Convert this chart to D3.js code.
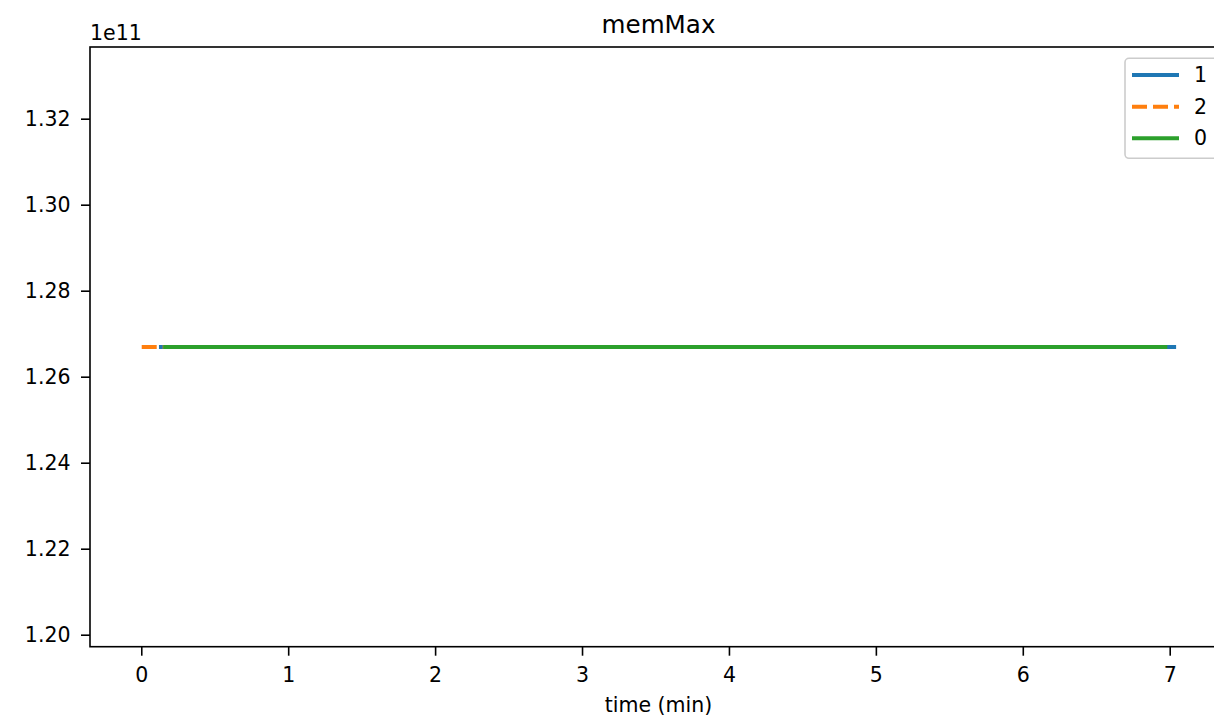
<!DOCTYPE html>
<html>
<head>
<meta charset="utf-8">
<script src="https://cdn.jsdelivr.net/npm/d3@7"></script>
<style>
  html, body { margin: 0; padding: 0; background: #fff; }
  svg { display: block; font-family: "DejaVu Sans", sans-serif; }
</style>
</head>
<body>
<svg id="chart" width="1214" height="719"></svg>
<script>
// ---- data ----
const seriesNames = ["1", "2", "0"];
const seriesColors = ["#1f77b4", "#ff7f0e", "#2ca02c"];
const seriesDashed = [false, true, false];
const time1 = [0.134, 7.03];
const mem1 = [1.2669e11, 1.2669e11];
const time2 = [0.003, 7.0];
const mem2 = [1.2669e11, 1.2669e11];
const time0 = [0.163, 6.97];
const mem0 = [1.2669e11, 1.2669e11];
const xTicks = [0, 1, 2, 3, 4, 5, 6, 7];
const yTicks = [1.20e11, 1.22e11, 1.24e11, 1.26e11, 1.28e11, 1.30e11, 1.32e11];
const titleText = "memMax";
const xLabelText = "time (min)";
const offsetText = "1e11";

const series = [
  { name: seriesNames[0], t: time1, v: mem1, color: seriesColors[0], dashed: seriesDashed[0] },
  { name: seriesNames[1], t: time2, v: mem2, color: seriesColors[1], dashed: seriesDashed[1] },
  { name: seriesNames[2], t: time0, v: mem0, color: seriesColors[2], dashed: seriesDashed[2] }
];

// ---- layout ----
const L = 90, R = 1227, T = 47, B = 646.7;
const svg = d3.select("#chart");
const x = d3.scaleLinear().domain([-0.349, 7.39]).range([L, R]);
const y = d3.scaleLinear().domain([1.19721e11, 1.33667e11]).range([B, T]);
const fs = 20.5;

// lines
const line = d3.line().x((d) => x(d[0])).y((d) => y(d[1]));
const plot = svg.append("g");
series.forEach((s) => {
  const pts = s.t.map((t, i) => [t, s.v[i]]);
  plot.append("path")
    .attr("d", line(pts))
    .attr("fill", "none")
    .attr("stroke", s.color)
    .attr("stroke-width", 4)
    .attr("stroke-linecap", s.dashed ? "butt" : "square")
    .attr("stroke-dasharray", s.dashed ? "15,6" : null);
});

// axes
const xAxis = d3.axisBottom(x).tickValues(xTicks).tickFormat(d3.format("d")).tickSize(9).tickPadding(11.5);
const yAxis = d3.axisLeft(y).tickValues(yTicks).tickFormat((d) => (d / 1e11).toFixed(2)).tickSize(9).tickPadding(10.5);

const gx = svg.append("g").attr("transform", `translate(0,${B})`).call(xAxis);
const gy = svg.append("g").attr("transform", `translate(${L},0)`).call(yAxis);
[gx, gy].forEach((g) => {
  g.select(".domain").remove();
  g.selectAll(".tick line").attr("stroke", "#000").attr("stroke-width", 1.6);
  g.selectAll(".tick text").attr("fill", "#000").style("font-size", fs + "px").style("font-family", "DejaVu Sans");
});
gx.selectAll(".tick text").attr("dy", "0.71em");

// spines
const spines = svg.append("g").attr("stroke", "#000").attr("stroke-width", 1.6).attr("fill", "none");
spines.append("rect").attr("x", L).attr("y", T).attr("width", R - L).attr("height", B - T);

// texts
svg.append("text").attr("x", (L + R) / 2).attr("y", 33).attr("text-anchor", "middle")
  .style("font-size", "24.6px").text(titleText);
svg.append("text").attr("x", (L + R) / 2).attr("y", 711.5).attr("text-anchor", "middle")
  .style("font-size", fs + "px").text(xLabelText);
svg.append("text").attr("x", L).attr("y", 40).attr("text-anchor", "start")
  .style("font-size", fs + "px").text(offsetText);

// legend
const lg = svg.append("g");
lg.append("rect").attr("x", 1125).attr("y", 58.3).attr("width", 120).attr("height", 100)
  .attr("rx", 4).attr("fill", "#fff").attr("fill-opacity", 0.8)
  .attr("stroke", "#cccccc").attr("stroke-width", 1.6);
const rowY = [75, 106.7, 138.3];
series.forEach((s, i) => {
  lg.append("line").attr("x1", 1132).attr("x2", 1179).attr("y1", rowY[i]).attr("y2", rowY[i])
    .attr("stroke", s.color).attr("stroke-width", 4)
    .attr("stroke-dasharray", s.dashed ? "15,6" : null);
  lg.append("text").attr("x", 1194).attr("y", rowY[i]).attr("dy", "0.35em")
    .style("font-size", fs + "px").text(s.name);
});
</script>
</body>
</html>
